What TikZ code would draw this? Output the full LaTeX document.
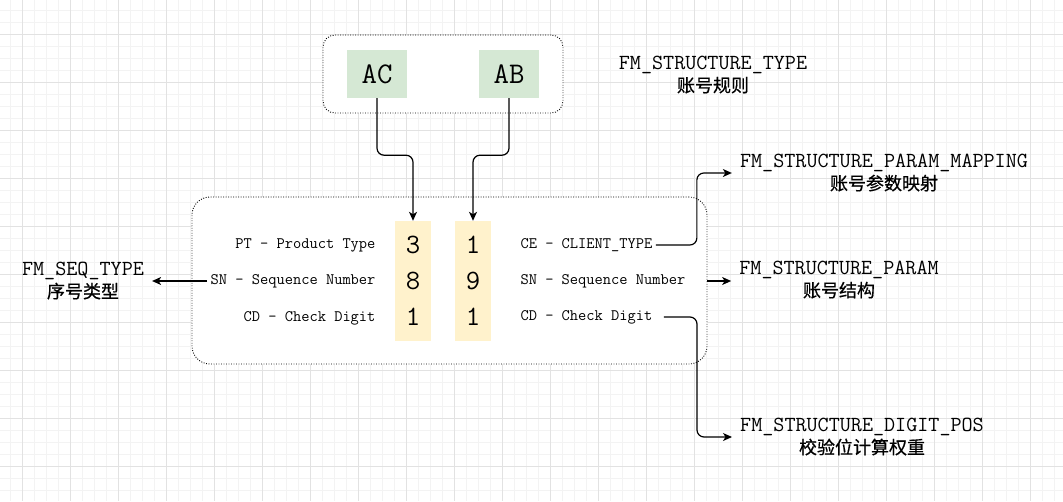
\documentclass[tikz,border=0pt]{standalone}
\usepackage{fontspec}
\newfontfamily\cjk{Noto Sans CJK SC}[FakeBold=0.6]
\usetikzlibrary{arrows.meta,positioning}

\definecolor{gridminor}{HTML}{F3F3F3}
\definecolor{gridmajor}{HTML}{E2E2E2}
\definecolor{codefill}{HTML}{D5E8D4}
\definecolor{digitfill}{HTML}{FFF2CC}

\tikzset{
  dotbox/.style={draw, fill=white, line width=0.9pt, dash pattern=on 0.9pt off 1.6pt},
  codebox/.style={fill=codefill, minimum width=60pt, minimum height=48pt,
    font=\ttfamily\fontsize{30}{32}\selectfont},
  digitcol/.style={fill=digitfill, minimum width=36pt, minimum height=120pt},
  digit/.style={font=\ttfamily\fontsize{28}{30}\selectfont},
  part/.style={font=\ttfamily\fontsize{16}{18}\selectfont},
  tablelbl/.style={align=center, inner xsep=8pt, font=\fontsize{21.5}{22}\selectfont},
  conn/.style={line width=1.2pt, rounded corners=7pt,
    -{Stealth[length=9pt,width=8pt,inset=2.5pt]}},
}

\begin{document}
\begin{tikzpicture}[x=1pt,y=-1pt]
    \useasboundingbox (0,0) rectangle (1063,501);
    % background grid
    \foreach \x in {10,22,...,1062} \draw [gridminor, line width=1pt] (\x,0) -- (\x,501);
    \foreach \y in {10,22,...,500} \draw [gridminor, line width=1pt] (0,\y) -- (1063,\y);
    \foreach \x in {22,70,...,1062} \draw [gridmajor, line width=1pt] (\x,0) -- (\x,501);
    \foreach \y in {34,82,...,500} \draw [gridmajor, line width=1pt] (0,\y) -- (1063,\y);

    % structure types
    \node [dotbox, rounded corners=12pt, minimum width=240pt, minimum height=78pt] (typeBox) at (443,74) {};
    \node [codebox] (ac) at (377,74) {AC};
    \node [codebox] (ab) at (509,74) {AB};
    \node [tablelbl] (typeLbl) at (713,75) {\ttfamily FM\_STRUCTURE\_TYPE\\\cjk\fontsize{18}{22}\selectfont 账号规则};

    % account number parts
    \node [dotbox, rounded corners=18pt, minimum width=515pt, minimum height=167pt] (seqBox) at (449.5,280.5) {};
    \node [digitcol] (col1) at (413,281) {};
    \node [digitcol] (col2) at (473,281) {};
    \node [digit] (d1a) at (413,245) {3};
    \node [digit] (d1b) at (413,281) {8};
    \node [digit] (d1c) at (413,317) {1};
    \node [digit] (d2a) at (473,245) {1};
    \node [digit] (d2b) at (473,281) {9};
    \node [digit] (d2c) at (473,317) {1};

    \node [part, anchor=east] (ptL) at (379,245) {PT - Product Type};
    \node [part, anchor=east] (snL) at (379,281) {SN - Sequence Number};
    \node [part, anchor=east] (cdL) at (379,318) {CD - Check Digit};
    \node [part, anchor=west] (ceR) at (517,245) {CE - CLIENT\_TYPE};
    \node [part, anchor=west] (snR) at (517,281) {SN - Sequence Number};
    \node [part, anchor=west] (cdR) at (517,317) {CD - Check Digit};

    % tables
    \node [tablelbl] (seqLbl) at (83,281) {\ttfamily FM\_SEQ\_TYPE\\\cjk\fontsize{18}{22}\selectfont 序号类型};
    \node [tablelbl] (mapLbl) at (884,173) {\ttfamily FM\_STRUCTURE\_PARAM\_MAPPING\\\cjk\fontsize{18}{22}\selectfont 账号参数映射};
    \node [tablelbl] (paramLbl) at (839,280) {\ttfamily FM\_STRUCTURE\_PARAM\\\cjk\fontsize{18}{22}\selectfont 账号结构};
    \node [tablelbl] (digLbl) at (862,437) {\ttfamily FM\_STRUCTURE\_DIGIT\_POS\\\cjk\fontsize{18}{22}\selectfont 校验位计算权重};

    % connectors
    \draw [conn] (ac.south) -- ++(0,57) -| (col1.north);
    \draw [conn] (ab.south) -- ++(0,57) -| (col2.north);
    \draw [conn] (snL.west) -- (seqLbl.east |- snL.west);
    \draw [conn] (ceR.east) -| ([xshift=-35pt]mapLbl.west) -- (mapLbl.west);
    \draw [conn] (seqBox.east |- snR.east) -- (paramLbl.west |- snR.east);
    \draw [conn] ([xshift=8pt]cdR.east) -| ([xshift=-35pt]digLbl.west) -- (digLbl.west);
\end{tikzpicture}
\end{document}
